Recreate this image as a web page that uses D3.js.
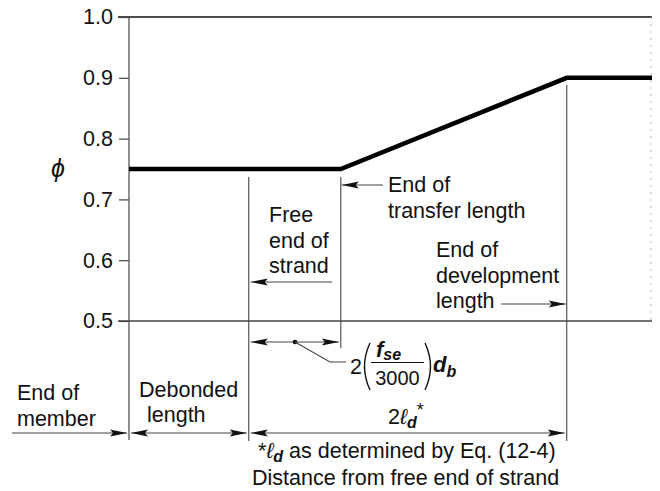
<!DOCTYPE html>
<html><head><meta charset="utf-8">
<script src="https://cdn.jsdelivr.net/npm/d3@7"></script>
<style>
html,body{margin:0;padding:0;background:#fff;}
text{font-family:"Liberation Sans",Arial,Helvetica,sans-serif;fill:#111;}
</style></head>
<body>
<svg id="c" width="660" height="491"></svg>
<script>
// ---- data ----
const yTicks = [0.5, 0.6, 0.7, 0.8, 0.9, 1.0];
const phiX = [0, 40.5, 83.7, 100];          // distance (relative units)
const phiY = [0.75, 0.75, 0.90, 0.90];       // strength reduction factor
const keyNames = ["End of member", "Free end of strand", "End of transfer length", "End of development length"];
const keyX = [0, 22.9, 40.5, 83.7];
const xMax = 100;

const svg = d3.select("#c");
const x = d3.scaleLinear().domain([0, xMax]).range([129, 652]);
const y = d3.scaleLinear().domain([0.5, 1.0]).range([321, 17]);

const ink = "#111";
const thin = "#444";
const FS = 21.5;

// frame lines at 1.0 and 0.5
[1.0, 0.5].forEach(v => {
  svg.append("line").attr("x1", 118).attr("x2", x(xMax)).attr("y1", y(v)).attr("y2", y(v))
    .attr("stroke", v === 1.0 ? ink : thin).attr("stroke-width", 1.3);
});
// faint right border
svg.append("line").attr("x1", x(xMax) - 1).attr("x2", x(xMax) - 1).attr("y1", y(1.0)).attr("y2", y(0.5))
  .attr("stroke", "#bbb").attr("stroke-width", 1).attr("stroke-dasharray", "2,5");

// y axis
const yAxis = d3.axisLeft(y).tickValues(yTicks).tickSize(10).tickPadding(6).tickFormat(d3.format(".1f"));
const ag = svg.append("g").attr("transform", `translate(${x(0)},0)`).call(yAxis);
ag.select(".domain").remove();
ag.selectAll(".tick line").attr("stroke", thin).attr("stroke-width", 1.2);
ag.selectAll(".tick text").attr("font-size", FS).attr("font-family", "Liberation Sans, Arial, sans-serif").attr("fill", ink);
svg.append("line").attr("x1", x(0)).attr("x2", x(0)).attr("y1", y(1.0)).attr("y2", 440)
  .attr("stroke", "#555").attr("stroke-width", 1.3);

// phi label
svg.append("text").attr("x", 58).attr("y", 177).attr("text-anchor", "middle")
  .attr("font-size", 25).attr("font-style", "italic").attr("font-family", "DejaVu Sans, sans-serif").text("ϕ");

// vertical key lines
const vLines = [
  {k: 1, top: 177, bot: 441},
  {k: 2, top: 177, bot: 348},
  {k: 3, top: 85, bot: 441}
];
vLines.forEach(d => {
  svg.append("line").attr("x1", x(keyX[d.k])).attr("x2", x(keyX[d.k])).attr("y1", d.top).attr("y2", d.bot)
    .attr("stroke", thin).attr("stroke-width", 1.1);
});

// phi curve
const pts = phiX.map((v, i) => [x(v), y(phiY[i])]);
svg.append("path").attr("d", d3.line()(pts)).attr("fill", "none").attr("stroke", "#000")
  .attr("stroke-width", 4.5).attr("stroke-linejoin", "miter");

// arrow helpers
function head(px, py, dir) { // dir: -1 left, +1 right
  const L = 17, W = 3.6;
  svg.append("path").attr("d", `M${px},${py}L${px - dir * L},${py - W}L${px - dir * (L - 3)},${py}L${px - dir * L},${py + W}Z`)
    .attr("fill", ink);
}
function hline(x1, x2, yy) {
  svg.append("line").attr("x1", x1).attr("x2", x2).attr("y1", yy).attr("y2", yy).attr("stroke", thin).attr("stroke-width", 1.1);
}

function multiText(lines, x0, y0, lh, anchor) {
  const t = svg.append("text").attr("font-size", FS).attr("text-anchor", anchor || "start");
  lines.forEach((s, i) => t.append("tspan").attr("x", x0).attr("y", y0 + i * lh).text(s));
}

// End of transfer length
const xT = x(keyX[2]);
hline(xT + 1, 383, 185); head(xT + 1, 185, -1);
multiText(["End of", "transfer length"], 388, 192, 26);

// Free end of strand
const xF = x(keyX[1]);
hline(xF + 2, 332, 282); head(xF + 2, 282, -1);
multiText(["Free", "end of", "strand"], 269, 222, 25.5);

// End of development length
const xD = x(keyX[3]);
multiText(["End of", "development", "length"], 436, 257, 25.5);
hline(501, xD - 1, 304); head(xD - 1, 304, 1);

// transfer length dimension
hline(xF + 2, xT - 2, 342); head(xF + 2, 342, -1); head(xT - 2, 342, 1);
svg.append("circle").attr("cx", 295).attr("cy", 342).attr("r", 2.3).attr("fill", ink);
svg.append("path").attr("d", "M295,342L330,362L346,362").attr("fill", "none").attr("stroke", thin).attr("stroke-width", 1.1);

// formula 2(fse/3000)db
svg.append("text").attr("x", 350).attr("y", 374).attr("font-size", FS).text("2");
svg.append("path").attr("d", "M370,343Q359,366.5 370,390").attr("fill", "none").attr("stroke", ink).attr("stroke-width", 1.4);
svg.append("path").attr("d", "M425,343Q436,366.5 425,390").attr("fill", "none").attr("stroke", ink).attr("stroke-width", 1.4);
const ft = svg.append("text").attr("x", 376).attr("y", 357).attr("font-size", 22).attr("font-weight", "bold").attr("font-style", "italic");
ft.append("tspan").text("f");
ft.append("tspan").attr("font-size", 16).attr("dy", 3).text("se");
svg.append("line").attr("x1", 371).attr("x2", 424).attr("y1", 362.5).attr("y2", 362.5).attr("stroke", ink).attr("stroke-width", 1.2);
svg.append("text").attr("x", 397.5).attr("y", 385).attr("text-anchor", "middle").attr("font-size", 20).text("3000");
const db = svg.append("text").attr("x", 433).attr("y", 372).attr("font-size", 22).attr("font-weight", "bold").attr("font-style", "italic");
db.append("tspan").text("d");
db.append("tspan").attr("font-size", 16).attr("dy", 5).text("b");

// 2 ld*
const t2 = svg.append("text").attr("x", 388).attr("y", 424).attr("font-size", FS);
t2.append("tspan").text("2");
t2.append("tspan").attr("font-style", "italic").text("ℓ");
t2.append("tspan").attr("font-size", 16).attr("font-weight", "bold").attr("font-style", "italic").attr("dy", 4).text("d");
t2.append("tspan").attr("font-size", 18).attr("dy", -12).text("*");

// bottom dimension line
const yb = 433;
const x0 = x(keyX[0]);
hline(12, x0 - 2, yb); head(x0 - 2, yb, 1);
hline(x0 + 2, xF - 2, yb); head(x0 + 2, yb, -1); head(xF - 2, yb, 1);
hline(xF + 2, xD - 2, yb); head(xF + 2, yb, -1); head(xD - 2, yb, 1);

multiText(["End of", "member"], 17, 400, 26);
svg.append("text").attr("x", 139).attr("y", 397).attr("font-size", FS).text("Debonded");
svg.append("text").attr("x", 147).attr("y", 422).attr("font-size", FS).text("length");

// footnote & x label
const fn = svg.append("text").attr("x", 258).attr("y", 458).attr("font-size", FS);
fn.append("tspan").text("*");
fn.append("tspan").attr("font-style", "italic").text("ℓ");
fn.append("tspan").attr("font-size", 16).attr("font-weight", "bold").attr("font-style", "italic").attr("dy", 4).text("d");
fn.append("tspan").attr("dy", -4).text(" as determined by Eq. (12-4)");
svg.append("text").attr("x", 252).attr("y", 485).attr("font-size", FS).text("Distance from free end of strand");
</script>
</body></html>
